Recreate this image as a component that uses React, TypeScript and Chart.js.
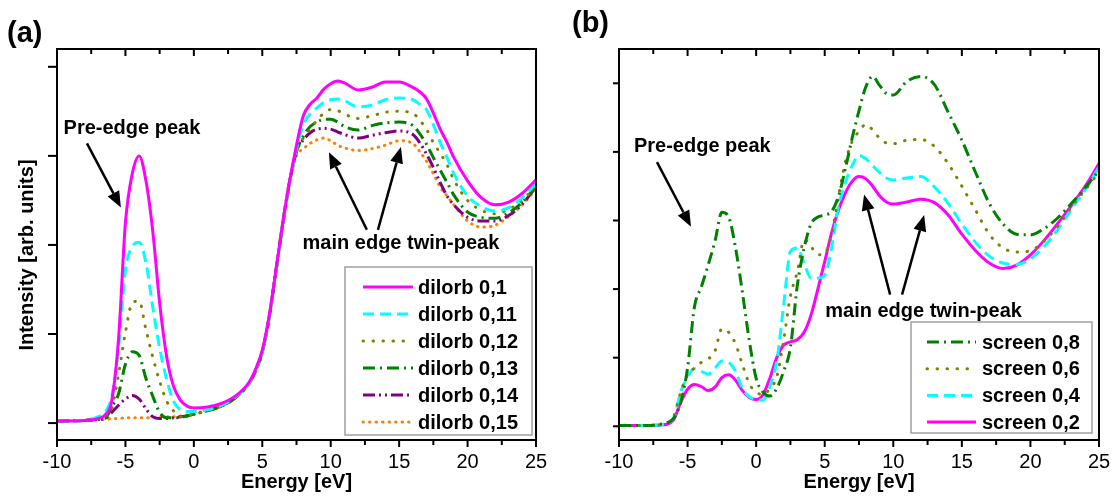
import React, { useEffect, useRef } from "react";
import { Chart, registerables } from "chart.js";

Chart.register(...registerables);

const FONT = "'Liberation Sans', Arial, Helvetica, sans-serif";

// ---------- shared axis ticks ----------
const xMajorTicks = [-10, -5, 0, 5, 10, 15, 20, 25];
const xMinorTicks = [-7.5, -2.5, 2.5, 7.5, 12.5, 17.5, 22.5];
const yTicksA = [0, 1, 2, 3, 4];
const yTicksB = [0, 1, 2, 3, 4, 5];

// ---------- panel (a) ----------
const energyA = [-10, -8, -7, -6.5, -6, -5.5, -5, -4.5, -4, -3.5, -3, -2.5, -2, -1.5, -1, -0.5, 0, 1, 2, 3, 4, 4.5, 5, 5.5, 6, 6.5, 7, 7.5, 8, 8.5, 9, 9.5, 10, 10.5, 11, 12, 13, 14, 15, 16, 16.5, 17, 17.5, 18, 18.5, 19, 20, 21, 22, 23, 24, 25];
const dilorb01 = [0.02, 0.03, 0.05, 0.09, 0.25, 0.95, 2.25, 2.8, 3.0, 2.72, 2.15, 1.35, 0.76, 0.42, 0.26, 0.19, 0.17, 0.18, 0.22, 0.3, 0.45, 0.6, 0.82, 1.2, 1.72, 2.25, 2.72, 3.12, 3.45, 3.58, 3.65, 3.75, 3.81, 3.84, 3.82, 3.74, 3.77, 3.83, 3.83, 3.77, 3.72, 3.64, 3.48, 3.3, 3.15, 2.98, 2.72, 2.53, 2.45, 2.48, 2.58, 2.73];
const dilorb011 = [0.02, 0.03, 0.07, 0.12, 0.3, 0.85, 1.72, 1.98, 2.03, 1.8, 1.3, 0.84, 0.5, 0.25, 0.15, 0.13, 0.13, 0.15, 0.2, 0.29, 0.44, 0.59, 0.8, 1.18, 1.7, 2.23, 2.7, 3.08, 3.35, 3.47, 3.54, 3.6, 3.63, 3.64, 3.62, 3.55, 3.57, 3.63, 3.65, 3.63, 3.58, 3.52, 3.35, 3.15, 2.98, 2.8, 2.55, 2.43, 2.38, 2.42, 2.53, 2.69];
const dilorb012 = [0.02, 0.03, 0.05, 0.08, 0.16, 0.55, 1.02, 1.35, 1.37, 1.05, 0.74, 0.47, 0.25, 0.14, 0.07, 0.08, 0.1, 0.14, 0.19, 0.28, 0.44, 0.58, 0.8, 1.18, 1.7, 2.23, 2.7, 3.05, 3.2, 3.3, 3.4, 3.48, 3.52, 3.51, 3.47, 3.42, 3.45, 3.49, 3.5, 3.48, 3.4, 3.3, 3.15, 3.03, 2.9, 2.73, 2.5, 2.39, 2.35, 2.4, 2.5, 2.67];
const dilorb013 = [0.02, 0.03, 0.04, 0.05, 0.18, 0.33, 0.66, 0.8, 0.76, 0.5, 0.3, 0.12, 0.06, 0.06, 0.06, 0.08, 0.1, 0.14, 0.19, 0.28, 0.44, 0.58, 0.8, 1.18, 1.7, 2.23, 2.7, 3.05, 3.22, 3.33, 3.38, 3.41, 3.41, 3.38, 3.33, 3.29, 3.34, 3.37, 3.38, 3.34, 3.25, 3.13, 2.98, 2.84, 2.7, 2.56, 2.37, 2.31, 2.3, 2.36, 2.48, 2.66];
const dilorb014 = [0.02, 0.03, 0.04, 0.05, 0.12, 0.2, 0.27, 0.31, 0.27, 0.16, 0.07, 0.05, 0.05, 0.06, 0.07, 0.08, 0.1, 0.14, 0.19, 0.28, 0.44, 0.58, 0.8, 1.18, 1.72, 2.25, 2.72, 3.05, 3.18, 3.26, 3.3, 3.31, 3.3, 3.27, 3.24, 3.2, 3.23, 3.26, 3.28, 3.24, 3.15, 3.02, 2.87, 2.7, 2.55, 2.45, 2.31, 2.27, 2.27, 2.33, 2.46, 2.65];
const dilorb015 = [0.02, 0.03, 0.04, 0.04, 0.05, 0.05, 0.06, 0.06, 0.06, 0.06, 0.06, 0.07, 0.07, 0.07, 0.08, 0.09, 0.1, 0.14, 0.19, 0.28, 0.44, 0.58, 0.8, 1.2, 1.72, 2.27, 2.72, 3.0, 3.08, 3.14, 3.18, 3.2, 3.17, 3.12, 3.09, 3.06, 3.08, 3.12, 3.17, 3.14, 3.05, 2.94, 2.8, 2.65, 2.55, 2.45, 2.27, 2.2, 2.22, 2.32, 2.45, 2.63];
const labelsA = ["dilorb 0,1", "dilorb 0,11", "dilorb 0,12", "dilorb 0,13", "dilorb 0,14", "dilorb 0,15"];

// ---------- panel (b) ----------
const energyB = [-10, -8, -7, -6.5, -6, -5.5, -5, -4.5, -4, -3.5, -3, -2.5, -2, -1.5, -1, -0.5, 0, 0.5, 1, 1.5, 2, 2.5, 3, 3.5, 4, 4.5, 5, 5.5, 6, 6.5, 7, 7.5, 8, 8.5, 9, 9.5, 10, 11, 12, 13, 14, 15, 16, 17, 18, 19, 20, 21, 22, 23, 24, 25];
const screen08 = [0.01, 0.01, 0.03, 0.05, 0.12, 0.35, 0.85, 1.74, 2.03, 2.35, 2.7, 3.12, 3.05, 2.6, 1.95, 1.25, 0.7, 0.5, 0.44, 0.55, 0.8, 1.15, 2.05, 2.6, 2.95, 3.05, 3.08, 3.13, 3.35, 3.75, 4.2, 4.6, 4.95, 5.1, 4.97, 4.85, 4.83, 5.03, 5.1, 4.98, 4.58, 4.17, 3.7, 3.25, 2.95, 2.8, 2.79, 2.88, 3.04, 3.25, 3.48, 3.73];
const screen06 = [0.01, 0.01, 0.02, 0.04, 0.15, 0.5, 0.75, 0.85, 0.93, 0.98, 1.1, 1.42, 1.37, 1.2, 0.9, 0.62, 0.5, 0.46, 0.55, 0.72, 1.25, 1.9, 2.25, 2.72, 2.62, 2.5, 2.52, 2.8, 3.35, 3.85, 4.15, 4.3, 4.4, 4.32, 4.2, 4.13, 4.12, 4.17, 4.18, 4.08, 3.83, 3.5, 3.15, 2.8, 2.6, 2.54, 2.56, 2.7, 2.92, 3.2, 3.45, 3.7];
const screen04 = [0.01, 0.01, 0.02, 0.04, 0.13, 0.5, 0.72, 0.84, 0.8, 0.76, 0.85, 0.95, 0.93, 0.8, 0.55, 0.43, 0.39, 0.38, 0.58, 0.95, 1.75, 2.55, 2.6, 2.38, 2.16, 2.16, 2.2, 2.6, 3.2, 3.55, 3.8, 3.95, 3.9, 3.8, 3.7, 3.62, 3.59, 3.62, 3.64, 3.49, 3.25, 2.95, 2.68, 2.48, 2.38, 2.36, 2.44, 2.62, 2.87, 3.17, 3.45, 3.78];
const screen02 = [0.01, 0.01, 0.02, 0.03, 0.1, 0.35, 0.54, 0.61, 0.58, 0.52, 0.57, 0.71, 0.75, 0.67, 0.52, 0.42, 0.39, 0.46, 0.7, 1.0, 1.18, 1.23, 1.26, 1.37, 1.62, 2.0, 2.4, 2.82, 3.15, 3.4, 3.57, 3.64, 3.61, 3.5, 3.36, 3.27, 3.24, 3.27, 3.31, 3.26, 3.08, 2.8, 2.56, 2.38, 2.3, 2.35, 2.5, 2.71, 2.96, 3.22, 3.5, 3.83];
const labelsB = ["screen 0,8", "screen 0,6", "screen 0,4", "screen 0,2"];

// ---------- styles ----------
const MAGENTA = "#FF00FF";
const CYAN = "#00FFFF";
const OLIVE = "#808000";
const GREEN = "#008000";
const PURPLE = "#800080";
const ORANGE = "#FF8000";

type Style = { color: string; dash: number[]; cap: CanvasLineCap; width: number };
const SOLID: number[] = [];
const styleMagenta: Style = { color: MAGENTA, dash: SOLID, cap: "butt", width: 3 };
const styleCyan: Style = { color: CYAN, dash: [11, 6], cap: "butt", width: 3 };
const styleOlive: Style = { color: OLIVE, dash: [0.5, 9.5], cap: "round", width: 3 };
const styleGreen: Style = { color: GREEN, dash: [12, 5, 2, 5], cap: "butt", width: 3 };
const stylePurple: Style = { color: PURPLE, dash: [12, 4, 2, 4, 2, 4], cap: "butt", width: 3 };
const styleOrange: Style = { color: ORANGE, dash: [0.5, 6], cap: "round", width: 3 };

type Series = { label: string; values: number[]; style: Style };
type Arrow = [number, number, number, number];
type Note = { text: string; x: number; y: number; align: CanvasTextAlign };

type PanelSpec = {
  letter: string;
  letterPos: [number, number];
  left: number;
  width: number;
  axisLeft: number;
  padRight: number;
  yMin: number;
  yMax: number;
  yTicks: number[];
  yTickLen: number;
  yTitle?: string;
  energy: number[];
  series: Series[];
  legendBox: [number, number, number, number];
  legendLine: [number, number];
  legendTextX: number;
  legendRow0: number;
  legendRowGap: number;
  notes: Note[];
  arrows: Arrow[];
};

const panelA: PanelSpec = {
  letter: "(a)",
  letterPos: [7, 34],
  left: 0,
  width: 560,
  axisLeft: 57,
  padRight: 24,
  yMin: -0.19,
  yMax: 4.2,
  yTicks: yTicksA,
  yTickLen: 9,
  yTitle: "Intensity [arb. units]",
  energy: energyA,
  series: [
    { label: labelsA[0], values: dilorb01, style: styleMagenta },
    { label: labelsA[1], values: dilorb011, style: styleCyan },
    { label: labelsA[2], values: dilorb012, style: styleOlive },
    { label: labelsA[3], values: dilorb013, style: styleGreen },
    { label: labelsA[4], values: dilorb014, style: stylePurple },
    { label: labelsA[5], values: dilorb015, style: styleOrange },
  ],
  legendBox: [345, 267, 532, 435],
  legendLine: [363, 413],
  legendTextX: 418,
  legendRow0: 287,
  legendRowGap: 27,
  notes: [
    { text: "Pre-edge peak", x: -9.52, y: 3.31, align: "left" },
    { text: "main edge twin-peak", x: 15.13, y: 2.02, align: "center" },
  ],
  arrows: [
    [-7.81, 3.14, -5.33, 2.42],
    [12.64, 2.17, 9.87, 3.04],
    [13.45, 2.17, 15.13, 3.1],
  ],
};

const panelB: PanelSpec = {
  letter: "(b)",
  letterPos: [12, 24],
  left: 560,
  width: 554,
  axisLeft: 59,
  padRight: 15,
  yMin: -0.2,
  yMax: 5.5,
  yTicks: yTicksB,
  yTickLen: 6,
  energy: energyB,
  series: [
    { label: labelsB[0], values: screen08, style: styleGreen },
    { label: labelsB[1], values: screen06, style: styleOlive },
    { label: labelsB[2], values: screen04, style: styleCyan },
    { label: labelsB[3], values: screen02, style: styleMagenta },
  ],
  legendBox: [351, 322, 532, 433],
  legendLine: [367, 416],
  legendTextX: 422,
  legendRow0: 342,
  legendRowGap: 26.7,
  notes: [
    { text: "Pre-edge peak", x: -8.91, y: 4.08, align: "left" },
    { text: "main edge twin-peak", x: 12.21, y: 1.68, align: "center" },
  ],
  arrows: [
    [-7.23, 3.85, -4.75, 2.91],
    [9.77, 1.92, 7.87, 3.38],
    [10.64, 1.92, 12.25, 3.08],
  ],
};

function drawArrow(ctx: CanvasRenderingContext2D, x1: number, y1: number, x2: number, y2: number) {
  const ang = Math.atan2(y2 - y1, x2 - x1);
  const headLen = 16;
  const headW = 6.5;
  const bx = x2 - headLen * Math.cos(ang);
  const by = y2 - headLen * Math.sin(ang);
  ctx.beginPath();
  ctx.moveTo(x1, y1);
  ctx.lineTo(bx, by);
  ctx.lineWidth = 2.5;
  ctx.stroke();
  ctx.beginPath();
  ctx.moveTo(x2, y2);
  ctx.lineTo(bx + headW * Math.sin(ang), by - headW * Math.cos(ang));
  ctx.lineTo(bx - headW * Math.sin(ang), by + headW * Math.cos(ang));
  ctx.closePath();
  ctx.fill();
}

function makeOverlay(spec: PanelSpec) {
  return {
    id: "overlay",
    afterDraw(chart: any) {
      const ctx: CanvasRenderingContext2D = chart.ctx;
      const { left, right, top, bottom } = chart.chartArea;
      const xs = chart.scales.x;
      const ys = chart.scales.y;
      ctx.save();
      ctx.strokeStyle = "#000";
      ctx.fillStyle = "#000";
      ctx.setLineDash([]);
      ctx.lineCap = "butt";

      // frame
      ctx.lineWidth = 2;
      ctx.strokeRect(left, top, right - left, bottom - top);

      // x ticks: bottom outward, top inward
      ctx.lineWidth = 2;
      const drawX = (v: number, len: number) => {
        const px = xs.getPixelForValue(v);
        ctx.beginPath();
        ctx.moveTo(px, bottom);
        ctx.lineTo(px, bottom + len);
        ctx.moveTo(px, top);
        ctx.lineTo(px, top + len);
        ctx.stroke();
      };
      xMajorTicks.forEach((v) => drawX(v, 7));
      xMinorTicks.forEach((v) => drawX(v, 5));

      // y ticks: left outward
      spec.yTicks.forEach((v) => {
        const py = ys.getPixelForValue(v);
        ctx.beginPath();
        ctx.moveTo(left - spec.yTickLen, py);
        ctx.lineTo(left, py);
        ctx.stroke();
      });

      // panel letter
      ctx.font = `bold 29px ${FONT}`;
      ctx.textAlign = "left";
      ctx.textBaseline = "middle";
      ctx.fillText(spec.letter, spec.letterPos[0], spec.letterPos[1]);

      // y title
      if (spec.yTitle) {
        ctx.save();
        ctx.translate(27, 255);
        ctx.rotate(-Math.PI / 2);
        ctx.font = `bold 20px ${FONT}`;
        ctx.textAlign = "center";
        ctx.textBaseline = "middle";
        ctx.fillText(spec.yTitle, 0, 0);
        ctx.restore();
      }

      // annotations
      ctx.font = `bold 20px ${FONT}`;
      ctx.textBaseline = "middle";
      spec.notes.forEach((n) => {
        ctx.textAlign = n.align;
        ctx.fillText(n.text, xs.getPixelForValue(n.x), ys.getPixelForValue(n.y));
      });
      spec.arrows.forEach((a) => {
        drawArrow(ctx, xs.getPixelForValue(a[0]), ys.getPixelForValue(a[1]), xs.getPixelForValue(a[2]), ys.getPixelForValue(a[3]));
      });

      // legend
      const [bx1, by1, bx2, by2] = spec.legendBox;
      ctx.fillStyle = "#fff";
      ctx.fillRect(bx1, by1, bx2 - bx1, by2 - by1);
      ctx.strokeStyle = "#a0a0a0";
      ctx.lineWidth = 1.5;
      ctx.strokeRect(bx1, by1, bx2 - bx1, by2 - by1);
      chart.data.datasets.forEach((ds: any, i: number) => {
        const y = spec.legendRow0 + i * spec.legendRowGap;
        ctx.beginPath();
        ctx.strokeStyle = ds.borderColor;
        ctx.lineWidth = ds.borderWidth;
        ctx.setLineDash(ds.borderDash);
        ctx.lineCap = ds.borderCapStyle;
        ctx.moveTo(spec.legendLine[0], y);
        ctx.lineTo(spec.legendLine[1], y);
        ctx.stroke();
        ctx.setLineDash([]);
        ctx.lineCap = "butt";
        ctx.fillStyle = "#000";
        ctx.textAlign = "left";
        ctx.textBaseline = "middle";
        ctx.font = `bold 20px ${FONT}`;
        ctx.fillText(ds.label, spec.legendTextX, y + 1);
      });
      ctx.restore();
    },
  };
}

function Panel({ spec }: { spec: PanelSpec }) {
  const ref = useRef<HTMLCanvasElement>(null);
  useEffect(() => {
    const canvas = ref.current;
    if (!canvas) return;
    const chart = new Chart(canvas, {
      type: "line",
      data: {
        datasets: spec.series.map((s) => ({
          label: s.label,
          data: spec.energy.map((x, i) => ({ x, y: s.values[i] })),
          borderColor: s.style.color,
          backgroundColor: s.style.color,
          borderWidth: s.style.width,
          borderDash: s.style.dash,
          borderCapStyle: s.style.cap,
          borderJoinStyle: "round",
          pointRadius: 0,
          fill: false,
          cubicInterpolationMode: "monotone",
        })),
      },
      options: {
        responsive: false,
        animation: false,
        devicePixelRatio: 1,
        layout: { padding: { left: 0, right: spec.padRight, top: 49, bottom: 0 } },
        plugins: {
          legend: { display: false },
          tooltip: { enabled: false },
          title: { display: false },
        },
        scales: {
          x: {
            type: "linear",
            min: -10,
            max: 25,
            ticks: {
              stepSize: 5,
              autoSkip: false,
              maxRotation: 0,
              padding: 3,
              color: "#000",
              font: { family: FONT, size: 20 },
            },
            grid: { display: false, drawTicks: true, tickLength: 7 },
            border: { display: false },
            title: {
              display: true,
              text: "Energy [eV]",
              color: "#000",
              font: { family: FONT, size: 20, weight: "bold" },
              padding: { top: 0, bottom: 4 },
            },
            afterFit: (s: any) => {
              s.height = 58;
            },
          },
          y: {
            type: "linear",
            min: spec.yMin,
            max: spec.yMax,
            ticks: { display: false },
            grid: { display: false },
            border: { display: false },
            afterFit: (s: any) => {
              s.width = spec.axisLeft;
            },
          },
        },
      } as any,
      plugins: [makeOverlay(spec)],
    });
    return () => chart.destroy();
  }, [spec]);
  return (
    <canvas
      ref={ref}
      width={spec.width}
      height={498}
      style={{ position: "absolute", left: spec.left, top: 0, width: spec.width, height: 498, display: "block" }}
    />
  );
}

export default function App() {
  return (
    <div style={{ position: "absolute", left: 0, top: 0, width: 1114, height: 498, background: "#fff", overflow: "hidden" }}>
      <Panel spec={panelA} />
      <Panel spec={panelB} />
    </div>
  );
}
